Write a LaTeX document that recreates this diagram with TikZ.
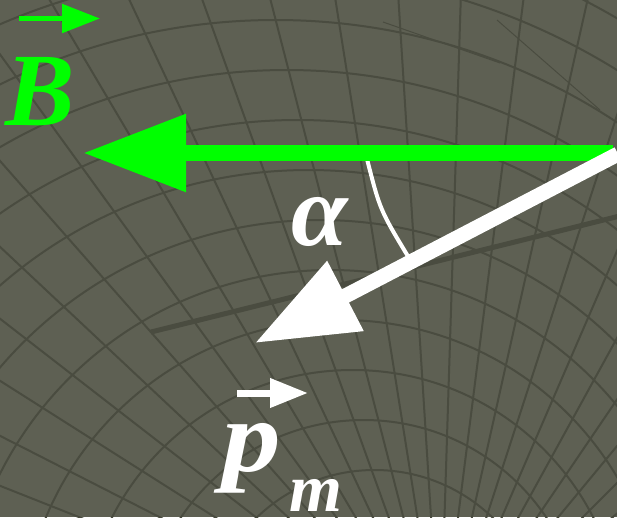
\documentclass[tikz,border=0pt]{standalone}
\usepackage{fontspec}
\setmainfont{Liberation Serif}
\usetikzlibrary{arrows.meta}
\definecolor{bgc}{HTML}{5E6053}
\definecolor{gridc}{HTML}{4A4C40}
\definecolor{vgreen}{HTML}{00FF00}
\begin{document}
\begin{tikzpicture}[x=1pt,y=-1pt,
  gridline/.style={draw=gridc,line width=2pt},
  faintline/.style={draw=gridc,line width=1pt},
  bigvecgreen/.style={draw=vgreen,line width=15.5pt,-{Triangle[length=103pt,width=74pt]}},
  bigvecwhite/.style={draw=white,line width=15pt,-{Triangle[length=102pt,width=75pt]}},
  smallvecgreen/.style={draw=vgreen,line width=5.3pt,-{Triangle[length=38pt,width=28pt]}},
  smallvecwhite/.style={draw=white,line width=7pt,-{Triangle[length=38pt,width=28pt]}},
  anglearc/.style={draw=white,line width=4pt},
  lbl/.style={anchor=base west,inner sep=0pt,font=\bfseries\itshape}
]
\fill[bgc] (0,0) rectangle (617,517);
\useasboundingbox (0,0) rectangle (617,517);
\begin{scope}
  \clip (0,0) rectangle (617,517);
  \foreach \r in {70,120,...,1100} {
    \draw[gridline] ({390-0.22*(\r-100)},640) circle[radius=\r pt];
  }
  \foreach \a in {-180,-174.6,...,0} {
    \draw[gridline] (440,660) -- ++(\a:1300);
  }
  \draw[faintline] (383,22) -- (500,63);
  \draw[faintline] (497,20) -- (600,110);
  \draw[draw=gridc,line width=5pt] (151,332) -- (640,211);
\end{scope}

% vertex and tips
\coordinate (Ogreen) at (613,153);
\coordinate (Btip) at (83,153);
\coordinate (Owhite) at (618,154);
\coordinate (Ptip) at (255,343);
\coordinate (arcA) at (367,159);
\coordinate (arcC) at (409,258);

% angle arc
\draw[anglearc] (arcA) .. controls (380,210) .. (arcC);

% main vectors
\draw[bigvecgreen] (Ogreen) -- (Btip);
\draw[bigvecwhite] (Owhite) -- (Ptip);

% labels
\node[lbl,text=vgreen,font=\fontsize{104}{104}\selectfont\bfseries\itshape] (Blabel) at (5,125) {B};
\node[lbl,text=white,font=\fontsize{102}{102}\selectfont\bfseries\itshape] (alabel) at (291,245) {α};
\node[lbl,text=white,xscale=1.15,transform shape,font=\fontsize{102}{102}\selectfont\bfseries\itshape] (plabel) at (222,471) {p};
\node[lbl,text=white,font=\fontsize{68}{68}\selectfont\bfseries\itshape] (mlabel) at (289,511) {m};

% small vector arrows over letters
\coordinate (Bv0) at (19,18.5);
\coordinate (Bv1) at (100,18.5);
\coordinate (pv0) at (237,393);
\coordinate (pv1) at (308,393);
\draw[smallvecgreen] (Bv0) -- (Bv1);
\draw[smallvecwhite] (pv0) -- (pv1);
\end{tikzpicture}
\end{document}
